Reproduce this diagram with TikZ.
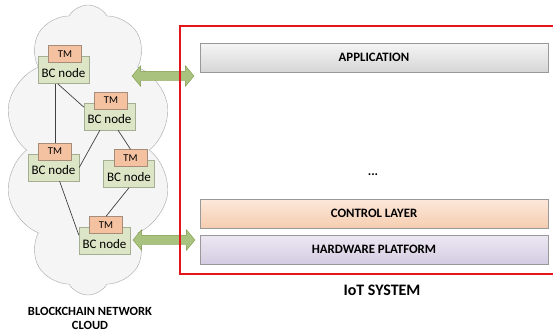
\documentclass[tikz,border=0pt]{standalone}
\usepackage{fontspec}
\setmainfont{Carlito}
\usepackage{xcolor}
\usetikzlibrary{calc, shapes.symbols, shapes.arrows, positioning}
\definecolor{bcgreen}{HTML}{DCE6C6}
\definecolor{bcedge}{HTML}{A3AE92}
\definecolor{tmorange}{HTML}{F4C2A1}
\definecolor{tmedge}{HTML}{A88C7A}
\definecolor{linkgreen}{HTML}{A9C27E}
\definecolor{linkedge}{HTML}{7D9A4A}
\definecolor{iotred}{HTML}{E3141B}
\definecolor{ctrltop}{HTML}{FCE8DA}
\definecolor{ctrlbot}{HTML}{F5CDB0}
\definecolor{hwtop}{HTML}{ECE8F2}
\definecolor{hwbot}{HTML}{D4CCE2}
\tikzset{
    cloudnode/.style = {draw=black!35, fill=black!4, cloud, cloud puffs=10, cloud puff arc=120,
      aspect=0.58, inner sep=0em},
    bcnode/.style = {draw=bcedge, fill=bcgreen, rectangle, inner sep=0em, minimum width=51pt,
      minimum height=27pt, text height=14pt, text depth=0pt, font=\fontsize{13}{14}\selectfont},
    tmnode/.style = {draw=tmedge, fill=tmorange, rectangle, inner sep=0em, minimum width=33pt,
      minimum height=17pt, node distance=0em, font=\fontsize{10.5}{11}\selectfont},
    layernode/.style = {draw=black!40, rectangle, inner sep=0em, minimum width=348pt,
      minimum height=29pt, font=\bfseries\fontsize{12.8}{14}\selectfont},
    linknode/.style = {draw=linkedge, fill=linkgreen, double arrow, double arrow head extend=5.5pt,
      double arrow tip angle=100, inner xsep=0em, inner ysep=4.5pt, minimum height=62pt},
    textnode/.style = {draw=none, fill=none, rectangle, inner sep=0em, node distance=0em},
    bcline/.style = {black!75, line width=0.7pt},
    every text node part/.style={align=center}
}

\begin{document}
\begin{tikzpicture}[x=1pt, y=-1pt]
    \useasboundingbox (0,0) rectangle (553,332);

    % blockchain side
    \node [name=cloud, cloudnode, minimum width=167pt, minimum height=290pt] at (88,150) {};

    \node [name=bc1, bcnode] at (63.5,70) {BC node};
    \node [name=bc2, bcnode, right of = bc1, node distance=0em, xshift=46pt, yshift=-46.5pt] {BC node};
    \node [name=bc3, bcnode, right of = bc1, node distance=0em, xshift=-10pt, yshift=-97.5pt] {BC node};
    \node [name=bc4, bcnode, right of = bc1, node distance=0em, xshift=65.5pt, yshift=-104pt] {BC node};
    \node [name=bc5, bcnode, right of = bc1, node distance=0em, xshift=41pt, yshift=-171pt] {BC node};

    \foreach \n in {1,...,5}
        \node [name=tm\n, tmnode, above of = bc\n, xshift=1.5pt, yshift=16pt] {TM};

    \draw [bcline] (tm3.north |- bc1.south) -- (tm3.north);
    \draw [bcline] (bc1.247) -- (bc2.160);
    \draw [bcline] (bc2.235) -- (bc3.east);
    \draw [bcline] (bc2.302) -- (tm4.north);
    \draw [bcline] (bc4.south) -- (tm5.north);
    \draw [bcline] (bc3.294) -- (bc5.167);

    \node [textnode, name=cloudlabel, font=\bfseries\fontsize{12.5}{14}\selectfont] at (90,318.5)
        {BLOCKCHAIN NETWORK\\CLOUD};

    % IoT side
    \coordinate (iot) at (180,150);

    \node [name=app, layernode, top color=black!4, bottom color=black!16] at (374,57.5) {APPLICATION};
    \node [name=dots, textnode, font=\bfseries\fontsize{13}{14}\selectfont] at (373,175) {...};
    \node [name=ctrl, layernode, top color=ctrltop, bottom color=ctrlbot] at (374,213.5) {CONTROL LAYER};
    \node [name=hw, layernode, top color=hwtop, bottom color=hwbot] at (374,249.5) {HARDWARE PLATFORM};

    \node [textnode, name=iotlabel, font=\bfseries\fontsize{16}{18}\selectfont] at (382,290) {IoT SYSTEM};

    % links between the two
    \node [name=link1, linknode] at (app.west -| iot) [xshift=-17pt, yshift=-18.5pt] {};
    \node [name=link2, linknode] at (hw.west -| iot) [xshift=-16pt, yshift=9.5pt] {};

    \draw [iotred, line width=1.6pt] (180,26) rectangle (560,274);
\end{tikzpicture}
\end{document}
